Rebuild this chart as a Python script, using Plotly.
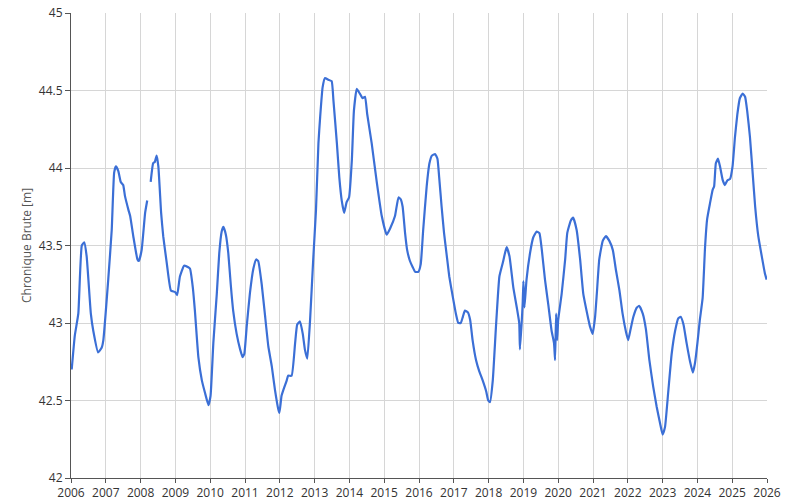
import plotly.graph_objects as go

# Decimal years (x) and water level values [m] (y); None = gap in record
years = [
    2006.02, 2006.11, 2006.21, 2006.31, 2006.38, 2006.45, 2006.57, 2006.64, 2006.78, 2006.88,
    2006.93, 2007.07, 2007.17, 2007.24, 2007.29, 2007.36, 2007.43, 2007.50, 2007.55, 2007.65,
    2007.70, 2007.79, 2007.91, 2007.95, 2008.03, 2008.13, 2008.19, 2008.24,
    2008.29, 2008.36, 2008.41, 2008.46, 2008.51, 2008.59, 2008.65, 2008.75, 2008.87, 2008.99,
    2009.05, 2009.13, 2009.25, 2009.37, 2009.42, 2009.50, 2009.56, 2009.66, 2009.76, 2009.85,
    2009.95, 2010.01, 2010.09, 2010.19, 2010.26, 2010.33, 2010.38, 2010.45, 2010.52, 2010.59,
    2010.66, 2010.76, 2010.86, 2010.93, 2010.98, 2011.05, 2011.14, 2011.24, 2011.32, 2011.38,
    2011.48, 2011.57, 2011.67, 2011.77, 2011.86, 2011.96, 2011.99, 2012.05, 2012.12, 2012.20,
    2012.24, 2012.34, 2012.44, 2012.50, 2012.58, 2012.66, 2012.72, 2012.79, 2012.87, 2012.96,
    2013.04, 2013.11, 2013.16, 2013.23, 2013.30, 2013.39, 2013.49, 2013.54, 2013.64, 2013.71,
    2013.78, 2013.85, 2013.92, 2013.99, 2014.07, 2014.13, 2014.21, 2014.30, 2014.38, 2014.45,
    2014.51, 2014.64, 2014.78, 2014.93, 2015.07, 2015.17, 2015.31, 2015.41, 2015.47, 2015.53,
    2015.60, 2015.66, 2015.74, 2015.82, 2015.89, 2015.98, 2016.05, 2016.12, 2016.22, 2016.30,
    2016.37, 2016.46, 2016.53, 2016.58, 2016.65, 2016.72, 2016.80, 2016.87, 2016.97, 2017.06,
    2017.13, 2017.20, 2017.26, 2017.32, 2017.40, 2017.47, 2017.54, 2017.64, 2017.73, 2017.83,
    2017.93, 2017.99, 2018.04, 2018.12, 2018.21, 2018.31, 2018.41, 2018.47, 2018.52, 2018.60,
    2018.71, 2018.81, 2018.88, 2018.90, 2018.95, 2018.98, 2019.00, 2019.03, 2019.09, 2019.19,
    2019.28, 2019.38, 2019.46, 2019.53, 2019.62, 2019.72, 2019.81, 2019.88, 2019.91, 2019.94,
    2019.97, 2020.00, 2020.10, 2020.20, 2020.26, 2020.36, 2020.43, 2020.53, 2020.63, 2020.72,
    2020.87, 2020.91, 2020.99, 2021.06, 2021.11, 2021.18, 2021.28, 2021.37, 2021.47, 2021.57,
    2021.66, 2021.76, 2021.85, 2021.95, 2022.01, 2022.08, 2022.16, 2022.26, 2022.33, 2022.43,
    2022.52, 2022.62, 2022.73, 2022.83, 2022.93, 2023.00, 2023.07, 2023.16, 2023.26, 2023.36,
    2023.45, 2023.52, 2023.60, 2023.69, 2023.79, 2023.87, 2023.93, 2024.00, 2024.07, 2024.15,
    2024.22, 2024.28, 2024.36, 2024.44, 2024.48, 2024.53, 2024.59, 2024.65, 2024.73, 2024.79,
    2024.86, 2024.94, 2025.01, 2025.08, 2025.15, 2025.22, 2025.30, 2025.37, 2025.43, 2025.51,
    2025.59, 2025.66, 2025.75, 2025.85, 2025.94, 2025.99,
]
levels = [
    42.70, 42.92, 43.06, 43.50, 43.52, 43.43, 43.06, 42.95, 42.81, 42.84,
    42.89, 43.28, 43.60, 43.97, 44.01, 43.98, 43.91, 43.89, 43.82, 43.73,
    43.69, 43.56, 43.41, 43.40, 43.47, 43.71, 43.79, None,
    43.91, 44.03, 44.04, 44.08, 44.01, 43.71, 43.56, 43.39, 43.21, 43.20,
    43.18, 43.30, 43.37, 43.36, 43.35, 43.23, 43.08, 42.78, 42.63, 42.55,
    42.47, 42.53, 42.87, 43.19, 43.45, 43.59, 43.62, 43.57, 43.45, 43.25,
    43.08, 42.93, 42.83, 42.78, 42.80, 42.98, 43.19, 43.35, 43.41, 43.40,
    43.25, 43.06, 42.85, 42.72, 42.57, 42.44, 42.42, 42.53, 42.58, 42.63,
    42.66, 42.66, 42.87, 42.99, 43.01, 42.93, 42.83, 42.77, 43.02, 43.41,
    43.73, 44.16, 44.33, 44.52, 44.58, 44.57, 44.56, 44.44, 44.16, 43.94,
    43.79, 43.71, 43.78, 43.81, 44.05, 44.37, 44.51, 44.48, 44.45, 44.46,
    44.35, 44.16, 43.92, 43.69, 43.57, 43.61, 43.69, 43.81, 43.80, 43.75,
    43.58, 43.47, 43.40, 43.36, 43.33, 43.33, 43.38, 43.60, 43.88, 44.03,
    44.08, 44.09, 44.06, 43.94, 43.75, 43.58, 43.43, 43.30, 43.17, 43.06,
    43.00, 43.00, 43.04, 43.08, 43.07, 43.02, 42.89, 42.76, 42.69, 42.63,
    42.56, 42.50, 42.49, 42.63, 42.97, 43.30, 43.39, 43.45, 43.49, 43.43,
    43.23, 43.10, 43.00, 42.83, 43.00, 43.13, 43.27, 43.10, 43.28, 43.45,
    43.55, 43.59, 43.58, 43.47, 43.28, 43.11, 42.95, 42.87, 42.76, 43.06,
    42.89, 43.02, 43.19, 43.41, 43.58, 43.66, 43.68, 43.60, 43.41, 43.19,
    43.02, 42.98, 42.93, 43.04, 43.19, 43.41, 43.53, 43.56, 43.53, 43.47,
    43.34, 43.21, 43.06, 42.94, 42.89, 42.96, 43.04, 43.10, 43.11, 43.06,
    42.96, 42.76, 42.59, 42.46, 42.35, 42.28, 42.33, 42.55, 42.80, 42.95,
    43.03, 43.04, 42.99, 42.87, 42.75, 42.68, 42.74, 42.87, 43.02, 43.16,
    43.49, 43.67, 43.77, 43.86, 43.88, 44.03, 44.06, 44.01, 43.92, 43.89,
    43.92, 43.93, 44.01, 44.20, 44.35, 44.45, 44.48, 44.46, 44.37, 44.20,
    43.96, 43.75, 43.56, 43.43, 43.32, 43.28,
]
year_ticks = list(range(2006, 2027))
level_ticks = [42, 42.5, 43, 43.5, 44, 44.5, 45]
y_title = "Chronique Brute [m]"

fig = go.Figure()
fig.add_trace(go.Scatter(
    x=years, y=levels, mode="lines", connectgaps=False,
    line=dict(color="#3b6fd6", width=2.2, shape="spline", smoothing=0.4),
    showlegend=False,
))

fig.update_layout(
    width=786, height=500,
    margin=dict(l=71, r=19, t=13, b=22),
    paper_bgcolor="white", plot_bgcolor="white",
    font=dict(family="Open Sans, Noto Sans, sans-serif", size=12, color="#333333"),
)
fig.update_xaxes(
    range=[2006, 2026], tickmode="array", tickvals=year_ticks,
    ticktext=[str(t) for t in year_ticks],
    showgrid=True, gridcolor="#d6d6d6", gridwidth=1,
    showline=True, linecolor="#555555", linewidth=1,
    ticks="outside", ticklen=4, tickcolor="#555555",
    zeroline=False, automargin=False, ticklabeloverflow="allow",
    tickfont=dict(size=12, color="#333333"),
)
fig.update_yaxes(
    range=[42, 45], tickmode="array", tickvals=level_ticks,
    ticktext=["42", "42.5", "43", "43.5", "44", "44.5", "45"],
    showgrid=True, gridcolor="#d6d6d6", gridwidth=1,
    showline=True, linecolor="#555555", linewidth=1,
    ticks="outside", ticklen=5, tickcolor="#555555",
    zeroline=False, automargin=False, ticklabeloverflow="allow",
    title=dict(text=y_title, font=dict(size=12, color="#555555"), standoff=4),
    tickfont=dict(size=12, color="#333333"),
)

# remove the default 8px page margin so the figure fills the window exactly
fig.write_html("out.html", config={"displayModeBar": False},
               post_script="document.body.style.margin='0';")
